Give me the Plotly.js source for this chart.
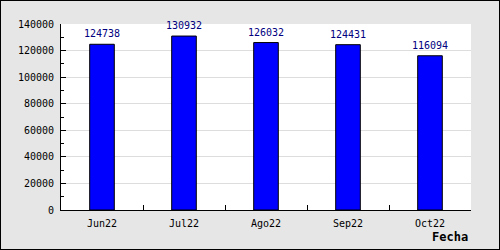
<!DOCTYPE html>
<html>
<head>
<meta charset="utf-8">
<script src="https://cdn.plot.ly/plotly-3.0.1.min.js"></script>
<style>
html,body{margin:0;padding:0;background:#e6e6e6;}
#wrap{width:498px;height:248px;border:1px solid #000;}
#chart{width:498px;height:248px;}
</style>
</head>
<body>
<div id="wrap"><div id="chart"></div></div>
<script>
const categories = ["Jun22", "Jul22", "Ago22", "Sep22", "Oct22"];
const values = [124738, 130932, 126032, 124431, 116094];
const yTickValues = [0, 20000, 40000, 60000, 80000, 100000, 120000, 140000];
const xTitle = "Fecha";

const mono = "DejaVu Sans Mono, monospace";

const trace = {
  type: "bar",
  x: categories,
  y: values,
  width: 0.3,
  marker: {color: "#0000ff", line: {color: "#000000", width: 1}},
  hoverinfo: "none"
};

const valueLabels = categories.map((c, i) => ({
  text: String(values[i]),
  xref: "x", yref: "y",
  x: c, y: values[i],
  xanchor: "center", yanchor: "bottom",
  yshift: 3,
  showarrow: false,
  font: {family: mono, size: 10, color: "#000080"}
}));

const layout = {
  width: 498,
  height: 248,
  margin: {l: 60, r: 28, t: 23, b: 39, pad: 0},
  paper_bgcolor: "#e6e6e6",
  plot_bgcolor: "#ffffff",
  showlegend: false,
  xaxis: {
    type: "category",
    tickson: "boundaries",
    ticks: "inside",
    ticklen: 5,
    tickcolor: "#000",
    tickwidth: 1,
    showline: true,
    linecolor: "#000",
    linewidth: 1,
    showgrid: false,
    ticklabelstandoff: 4,
    tickfont: {family: mono, size: 10, color: "#000"},
    fixedrange: true
  },
  yaxis: {
    range: [0, 140000],
    tickvals: yTickValues,
    ticktext: yTickValues.map(String),
    ticks: "inside",
    ticklen: 5,
    tickcolor: "#000",
    showline: true,
    linecolor: "#000",
    linewidth: 1,
    showgrid: true,
    gridcolor: "#dddddd",
    gridwidth: 1,
    zeroline: false,
    ticklabelstandoff: 4,
    minor: {dtick: 10000, tick0: 0, ticks: "inside", ticklen: 3, tickcolor: "#000", showgrid: false},
    tickfont: {family: mono, size: 10, color: "#000"},
    fixedrange: true
  },
  annotations: valueLabels.concat([{
    text: "<b>" + xTitle + "</b>",
    xref: "paper", yref: "paper",
    x: 1, y: 0,
    xanchor: "right", yanchor: "top",
    xshift: -1, yshift: -18,
    showarrow: false,
    font: {family: mono, size: 12, color: "#000"}
  }])
};

Plotly.newPlot("chart", [trace], layout, {displayModeBar: false, staticPlot: true});
</script>
</body>
</html>
